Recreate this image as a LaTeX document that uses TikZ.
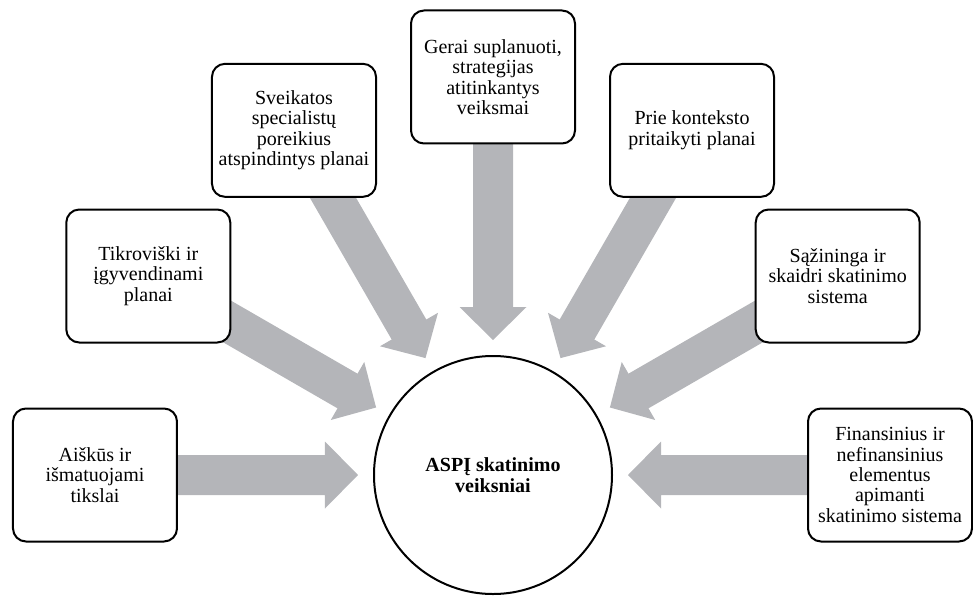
\documentclass[tikz,border=0pt]{standalone}
\usepackage{fontspec}
\setmainfont{Liberation Serif}
\usetikzlibrary{calc,backgrounds}

\definecolor{arrowgray}{RGB}{180,181,185}

\tikzset{
  hubnode/.style={circle, draw, line width=1pt, fill=white, minimum size=119pt,
    align=center, font=\fontsize{10}{10.2}\selectfont\bfseries},
  factor/.style={draw, line width=1pt, rounded corners=6.5pt, fill=white,
    minimum width=82pt, minimum height=66.5pt, align=center,
    font=\fontsize{10}{10.2}\selectfont},
}

% thick grey arrow from a factor box towards the hub
\newcommand{\bigarrow}[1]{%
  \coordinate (tip) at ($(hub.center)!67.5pt!(#1.center)$);
  \coordinate (neck) at ($(hub.center)!84pt!(#1.center)$);
  \fill[arrowgray] (tip) -- ($(neck)!16.75pt!90:(#1.center)$) -- ($(neck)!10pt!90:(#1.center)$)
    -- ($(#1.center)!10pt!-90:(hub.center)$) -- ($(#1.center)!10pt!90:(hub.center)$)
    -- ($(neck)!10pt!-90:(#1.center)$) -- ($(neck)!16.75pt!-90:(#1.center)$) -- cycle;}

\begin{document}
\begin{tikzpicture}[x=0.5pt,y=0.5pt]
  \useasboundingbox (-493,-120) rectangle (480,475);

  \node[hubnode] (hub) at (0,0) {ASPĮ skatinimo\\veiksniai};

  % factors round the hub
  \node[factor] (aiskus) at (180:398) {Aiškūs ir\\išmatuojami\\tikslai};
  \node[factor] (tikroviski) at (150:398) {Tikroviški ir\\įgyvendinami\\planai};
  \node[factor] (sveikatos) at (120:398) {Sveikatos\\specialistų\\poreikius\\atspindintys planai};
  \node[factor] (gerai) at (90:398) {Gerai suplanuoti,\\strategijas\\atitinkantys\\veiksmai};
  \node[factor] (prie) at (60:398) {Prie konteksto\\pritaikyti planai};
  \node[factor] (sazininga) at (30:398) {Sąžininga ir\\skaidri skatinimo\\sistema};
  \node[factor] (finansinius) at (0:397) {Finansinius ir\\nefinansinius\\elementus\\apimanti\\skatinimo sistema};

  \begin{pgfonlayer}{background}
    \foreach \b in {aiskus,tikroviski,sveikatos,gerai,prie,sazininga,finansinius}
      \bigarrow{\b};
  \end{pgfonlayer}
\end{tikzpicture}
\end{document}
